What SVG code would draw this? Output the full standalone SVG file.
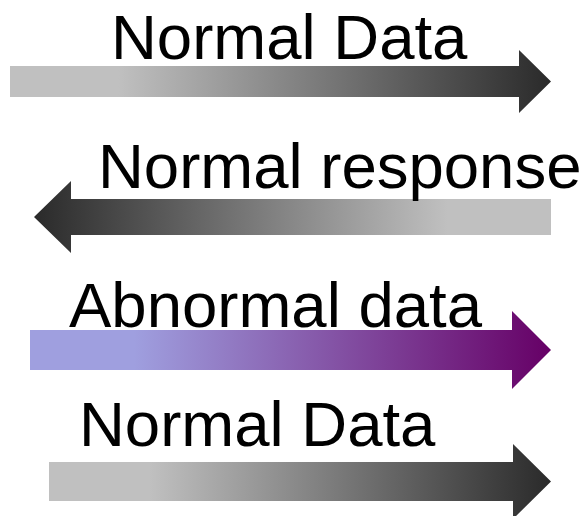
<svg xmlns="http://www.w3.org/2000/svg" width="588" height="516" viewBox="0 0 588 516">
  <defs>
    <linearGradient id="greyRight" x1="0" y1="0" x2="1" y2="0">
      <stop offset="0" stop-color="#c0c0c0"/>
      <stop offset="0.2" stop-color="#c0c0c0"/>
      <stop offset="1" stop-color="#2a2a2a"/>
    </linearGradient>
    <linearGradient id="greyLeft" x1="1" y1="0" x2="0" y2="0">
      <stop offset="0" stop-color="#c0c0c0"/>
      <stop offset="0.2" stop-color="#c0c0c0"/>
      <stop offset="1" stop-color="#2a2a2a"/>
    </linearGradient>
    <linearGradient id="purpleRight" x1="0" y1="0" x2="1" y2="0">
      <stop offset="0" stop-color="#9f9fdf"/>
      <stop offset="0.2" stop-color="#9f9fdf"/>
      <stop offset="1" stop-color="#660066"/>
    </linearGradient>
  </defs>
  <style>
    .label { font-family: "Liberation Sans", Arial, sans-serif; font-size: 63.5px; fill: #000; }
  </style>

  <g id="normal-data-1">
    <path d="M10 66 H519 V50 L551 81.5 L519 113 V97 H10 Z" fill="url(#greyRight)"/>
    <text class="label" x="111" y="59">Normal Data</text>
  </g>

  <g id="normal-response">
    <path d="M551 199 H71 V181 L34 217 L71 253 V235 H551 Z" fill="url(#greyLeft)"/>
    <text class="label" x="98" y="188">Normal response</text>
  </g>

  <g id="abnormal-data">
    <path d="M30 330 H512 V311 L551 350 L512 389 V370 H30 Z" fill="url(#purpleRight)"/>
    <text class="label" x="69" y="327">Abnormal data</text>
  </g>

  <g id="normal-data-2">
    <path d="M49 462 H513 V444 L551 481.5 L513 519 V501 H49 Z" fill="url(#greyRight)"/>
    <text class="label" x="79" y="446">Normal Data</text>
  </g>
</svg>
